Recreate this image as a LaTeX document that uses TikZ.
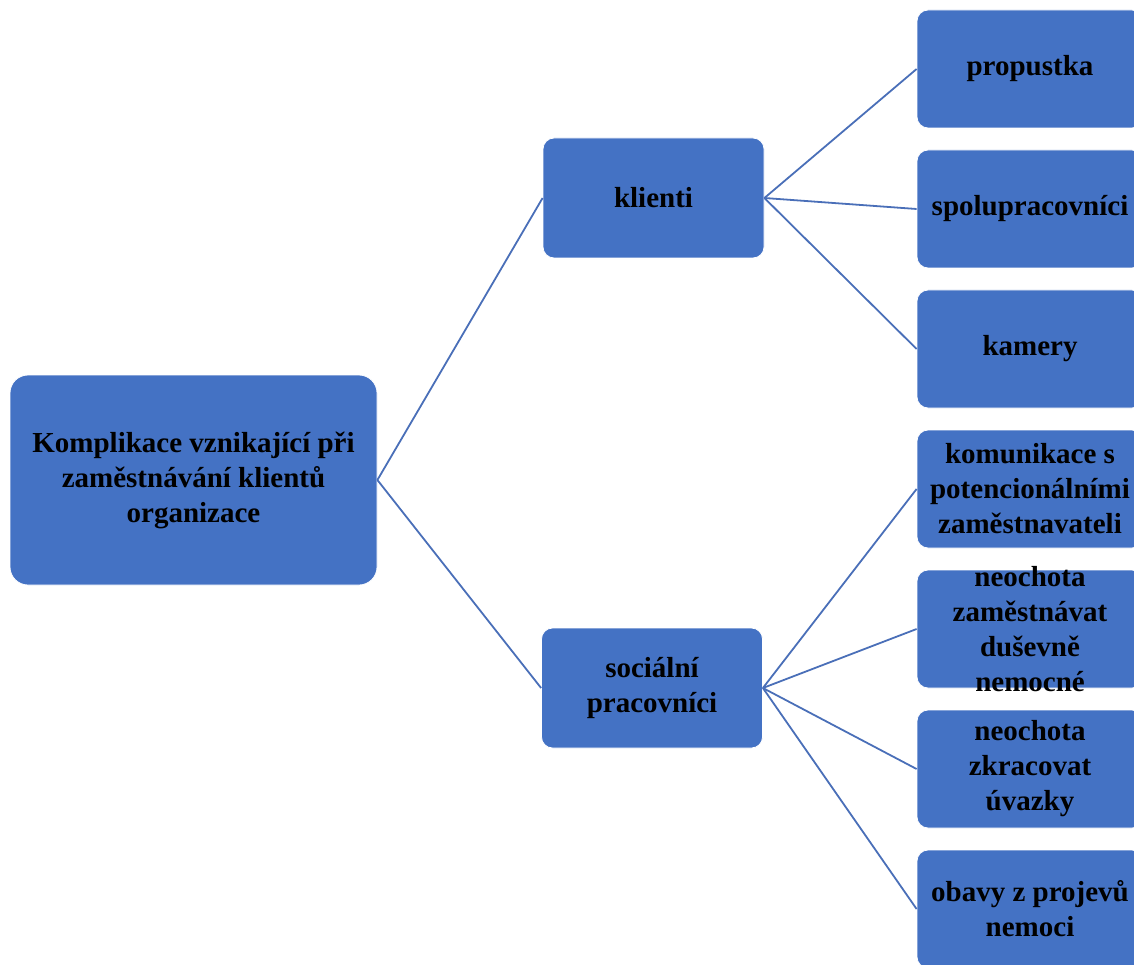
\documentclass[tikz,border=0pt]{standalone}
\usepackage{fontspec}
\setmainfont{Liberation Serif}
\usepackage{xcolor}
\usetikzlibrary{positioning}
\definecolor{boxfill}{HTML}{4472C4}
\definecolor{linkline}{HTML}{4A6FB8}

\begin{document}
\begin{tikzpicture}[x=1pt, y=-1pt,
  font=\fontsize{29}{35}\selectfont\bfseries,
  box/.style={draw=white, line width=0.8pt, fill=boxfill, rounded corners=11pt,
    align=center, inner sep=2pt},
  root/.style={box, rounded corners=18pt, minimum width=367pt, minimum height=210pt},
  mid/.style={box, minimum width=221pt, minimum height=120pt},
  leaf/.style={box, minimum width=226pt, minimum height=118pt},
  link/.style={linkline, line width=1.8pt}]
\useasboundingbox (0,0) rectangle (1134,965);

\node[root] (root) at (193.5,480) {Komplikace vznikající při\\zaměstnávání klientů\\organizace};
\node[mid] (klienti) at (653.5,198) {klienti};
\node[mid] (socialni) at (652,688) {sociální\\pracovníci};

\draw[link] (root.east)--(klienti.west);
\draw[link] (root.east)--(socialni.west);

\foreach \idx/\lbl in {0/propustka,1/spolupracovníci,2/kamery}
 {
  \node[leaf] (k\idx) at (1030, 69+140*\idx) {\lbl};
  \draw[link] (klienti.east)--(k\idx.west);
 }

\node[leaf] (s0) at (1030,489) {komunikace s\\potencionálními\\zaměstnavateli};
\node[leaf, inner ysep=-6pt] (s1) at (1030,629) {neochota\\zaměstnávat\\duševně\\nemocné};
\node[leaf] (s2) at (1030,769) {neochota\\zkracovat\\úvazky};
\node[leaf] (s3) at (1030,909) {obavy z projevů\\nemoci};

\foreach \idx in {0,...,3}
  \draw[link] (socialni.east)--(s\idx.west);
\end{tikzpicture}
\end{document}
